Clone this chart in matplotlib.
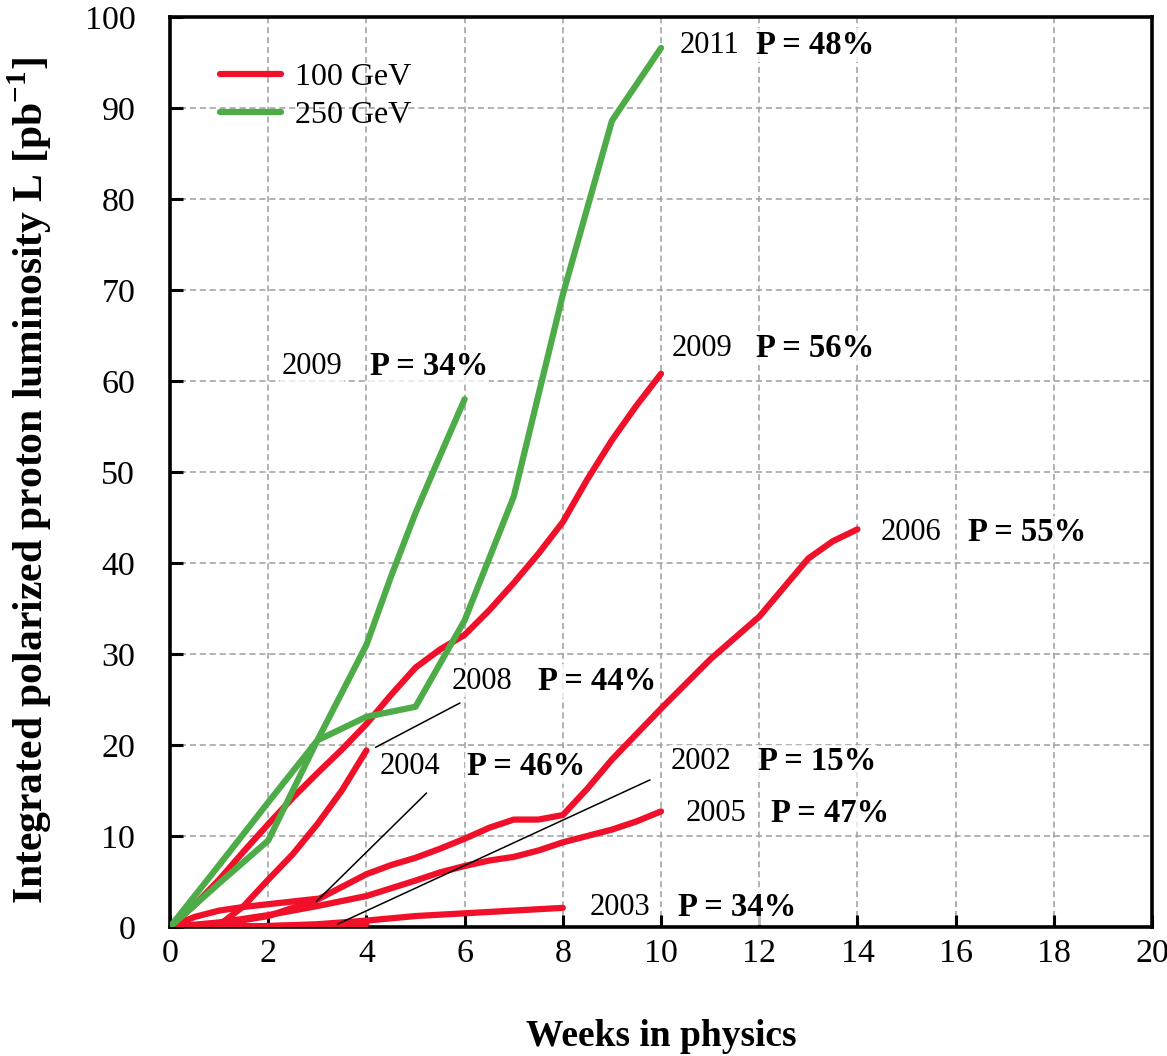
import matplotlib
matplotlib.use("Agg")
import matplotlib.pyplot as plt
from matplotlib.lines import Line2D

# ---- data: integrated polarized luminosity (pb^-1) vs weeks in physics ----
weeks_2009_100 = [0, 0.5, 1, 1.5, 2, 2.5, 3, 3.5, 4, 4.5, 5, 5.5, 6, 6.5, 7, 7.5, 8, 8.5, 9, 9.5, 10]
lumi_2009_100 = [0, 2.4, 5.2, 8.3, 11.3, 14.2, 16.9, 19.5, 22.3, 25.5, 28.5, 30.5, 32.1, 34.8, 37.8, 41.0, 44.5, 49.2, 53.5, 57.3, 60.8]

weeks_2008 = [0, 0.5, 1, 1.5, 2, 2.5, 3, 3.5, 4]
lumi_2008 = [0, 0.05, 0.2, 2.3, 5.2, 8.0, 11.3, 15.0, 19.4]

weeks_2004 = [0, 0.5, 1, 1.5, 2, 2.5, 3]
lumi_2004 = [0, 1.1, 1.8, 2.2, 2.5, 2.8, 3.1]

weeks_2006 = [0, 1, 2, 3, 4, 4.5, 5, 5.5, 6, 6.5, 7, 7.5, 8, 8.5, 9, 9.5, 10, 11, 12, 12.5, 13, 13.5, 14]
lumi_2006 = [0, 0.3, 1.2, 3.0, 5.8, 6.8, 7.6, 8.6, 9.7, 10.9, 11.8, 11.8, 12.3, 15.2, 18.4, 21.2, 24.0, 29.4, 34.1, 37.3, 40.5, 42.4, 43.7]

weeks_2005 = [0, 1, 2, 3, 4, 5, 5.5, 6, 6.5, 7, 7.5, 8, 8.5, 9, 9.5, 10]
lumi_2005 = [0, 0.5, 1.3, 2.3, 3.4, 5.1, 6.0, 6.7, 7.3, 7.7, 8.4, 9.3, 10.0, 10.7, 11.6, 12.7]

weeks_2003 = [0, 1, 2, 3, 4, 5, 6, 7, 8]
lumi_2003 = [0, 0.05, 0.1, 0.3, 0.7, 1.2, 1.5, 1.8, 2.1]

weeks_2002 = [0, 1, 2, 3, 4]
lumi_2002 = [0, 0.05, 0.1, 0.2, 0.3]

weeks_2009_250 = [0, 1, 2, 3, 4, 4.5, 5, 5.5, 6]
lumi_2009_250 = [0, 6.8, 13.7, 20.5, 31.0, 38.5, 45.5, 51.8, 58.0]

weeks_2011 = [0, 1, 2, 3, 4, 5, 6, 7, 8, 9, 10]
lumi_2011 = [0, 4.8, 9.5, 20.5, 23.1, 24.2, 33.7, 47.3, 69.5, 88.6, 96.6]

x_ticks = [0, 2, 4, 6, 8, 10, 12, 14, 16, 18, 20]
y_ticks = [0, 10, 20, 30, 40, 50, 60, 70, 80, 90, 100]

# run labels: (year, polarization text, x of year, x of polarization, y)
run_labels = [
    ("2011", "P = 48%", 10.38, 11.94, 96.9),
    ("2009", "P = 56%", 10.21, 11.94, 63.6),
    ("2006", "P = 55%", 14.47, 16.26, 43.3),
    ("2009", "P = 34%", 2.27, 4.07, 61.6),
    ("2008", "P = 44%", 5.73, 7.49, 27.0),
    ("2004", "P = 46%", 4.27, 6.04, 17.6),
    ("2002", "P = 15%", 10.20, 11.97, 18.2),
    ("2005", "P = 47%", 10.50, 12.24, 12.5),
    ("2003", "P = 34%", 8.55, 10.34, 2.1),
]

# leader lines from label to curve: (x_label, y_label, x_curve, y_curve)
leaders = [
    (5.90, 24.6, 4.19, 19.75),
    (5.22, 14.7, 2.98, 2.8),
    (9.77, 16.15, 3.42, 0.33),
]

RED = "#F0102A"
GREEN = "#4DAC47"

plt.rcParams["font.family"] = ["Liberation Serif", "DejaVu Serif"]
plt.rcParams["mathtext.fontset"] = "custom"
plt.rcParams["mathtext.rm"] = "Liberation Serif"
plt.rcParams["mathtext.bf"] = "Liberation Serif:bold"

fig = plt.figure(figsize=(11.67, 10.56), dpi=100)
ax = fig.add_axes([0.1457, 0.1222, 0.8415, 0.8617])

line_kw = dict(lw=4.5, solid_capstyle="round", solid_joinstyle="round", zorder=3)

for wx, ly in [(weeks_2002, lumi_2002), (weeks_2003, lumi_2003), (weeks_2005, lumi_2005),
               (weeks_2006, lumi_2006), (weeks_2004, lumi_2004), (weeks_2008, lumi_2008),
               (weeks_2009_100, lumi_2009_100)]:
    ax.plot(wx, ly, color=RED, **line_kw)

for wx, ly in [(weeks_2009_250, lumi_2009_250), (weeks_2011, lumi_2011)]:
    ax.plot(wx, ly, color=GREEN, **line_kw)

for x0, y0, x1, y1 in leaders:
    ax.plot([x0, x1], [y0, y1], color="black", lw=1.1, zorder=4)

box = dict(facecolor="white", edgecolor="none", alpha=0.75, pad=1.0)
for year, ptxt, xy, xp, y in run_labels:
    ax.text(xy, y, year, fontsize=22, ha="left", va="center", bbox=box, zorder=5)
    ax.text(xp, y, ptxt, fontsize=23.5, fontweight="bold", ha="left", va="center",
            bbox=box, zorder=5)

ax.set_xlim(0, 20)
ax.set_ylim(0, 100)
ax.set_xticks(x_ticks)
ax.set_yticks(y_ticks)
ax.set_xticklabels([str(t) for t in x_ticks])
ax.set_yticklabels([str(t) for t in y_ticks])
ax.tick_params(axis="both", direction="in", length=9, width=2.2, labelsize=24.5,
               top=False, right=False)
ax.tick_params(axis="y", pad=25)
ax.tick_params(axis="x", pad=8)

ax.grid(True, color="#9E9E9E", linestyle=(0, (4, 2.5)), linewidth=1.1, zorder=0)
ax.set_axisbelow(True)
for sp in ax.spines.values():
    sp.set_linewidth(2.6)
    sp.set_color("black")

ax.set_xlabel("Weeks in physics", fontsize=27, fontweight="bold", labelpad=36)
ax.set_ylabel(r"Integrated polarized proton luminosity L [pb$^{\mathbf{-1}}$]",
              fontsize=30, fontweight="bold")
ax.yaxis.set_label_coords(-0.118, 0.49)

handles = [Line2D([], [], color=RED, lw=4.5, solid_capstyle="round"),
           Line2D([], [], color=GREEN, lw=4.5, solid_capstyle="round")]
ax.legend(handles, ["100 GeV", "250 GeV"], loc="upper left",
          bbox_to_anchor=(0.051, 0.950), frameon=False, fontsize=23,
          handlelength=1.9, handletextpad=0.45, labelspacing=0.28,
          borderpad=0, borderaxespad=0)

fig.savefig("out.png", dpi=100)
